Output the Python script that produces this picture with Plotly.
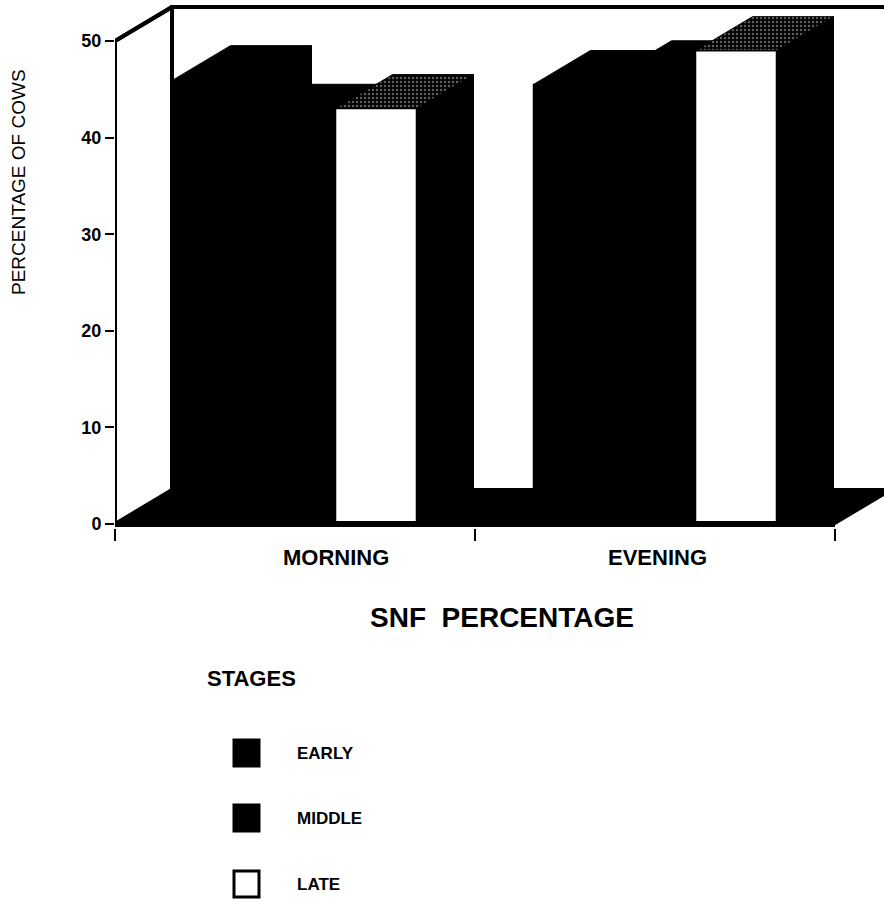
import plotly.graph_objects as go

# ---- data -------------------------------------------------------------
categories = ["MORNING", "EVENING"]
stages = ["EARLY", "MIDDLE", "LATE"]
early = [46, 45.5]
middle = [42, 46.5]
late = [43, 49]
y_ticks = [0, 10, 20, 30, 40, 50]

series = [early, middle, late]
front_colors = ["black", "black", "white"]

# ---- geometry of the pseudo-3D box (in axis units) ---------------------
W, H = 884, 921
PLOT_L, PLOT_B = 115, 528          # left edge / bottom edge of plot area (px)
PX_PER_X = 360.0                   # px per category unit
PX_PER_Y = 9.66                    # px per percentage point
Y0_PX = 524                        # pixel row of value 0 on the front plane

X_MIN = 0.5
X_MAX = X_MIN + (W - PLOT_L) / PX_PER_X
Y_MAX = Y0_PX / PX_PER_Y
Y_MIN = (Y0_PX - PLOT_B) / PX_PER_Y

DX = 57 / PX_PER_X                 # depth offset along x
DY = 34 / PX_PER_Y                 # depth offset along y
BAR_W = 0.225
TOP = 50


def px_x(px):
    return (px - PLOT_L) / (W - PLOT_L)


def px_y(py):
    return (PLOT_B - py) / PLOT_B


fig = go.Figure()


def poly(xs, ys, fill, lw=1, pattern=None):
    kw = {}
    if pattern is not None:
        kw["fillpattern"] = pattern
    fig.add_trace(go.Scatter(
        x=xs + [xs[0]], y=ys + [ys[0]], mode="lines", fill="toself",
        fillcolor=fill, line=dict(color="black", width=lw),
        hoverinfo="skip", showlegend=False, **kw))


# back wall
poly([X_MIN + DX, X_MAX + 0.2, X_MAX + 0.2, X_MIN + DX],
     [DY, DY, TOP + DY, TOP + DY], "white", lw=4)
# left wall
poly([X_MIN, X_MIN, X_MIN + DX, X_MIN + DX],
     [0, TOP, TOP + DY, DY], "white", lw=4)
# floor
poly([X_MIN, 2.5, 2.5 + DX, X_MAX + 0.2, X_MAX + 0.2, X_MIN + DX],
     [0, 0, DY, DY, DY, DY], "black", lw=2)

stipple = dict(shape=".", bgcolor="black", fgcolor="#bbbbbb",
               size=4, solidity=0.3)

# bars: each category a cluster of three boxes drawn left to right
for ci, _ in enumerate(categories):
    centre = ci + 1
    start = centre - 1.5 * BAR_W
    for si, vals in enumerate(series):
        v = vals[ci]
        x0 = start + si * BAR_W
        x1 = x0 + BAR_W
        # right side face
        poly([x1, x1 + DX, x1 + DX, x1], [0, DY, v + DY, v], "black")
        # top face
        poly([x0, x1, x1 + DX, x0 + DX], [v, v, v + DY, v + DY], "black",
             pattern=stipple if si == 2 else None)
        # front face
        poly([x0, x1, x1, x0], [0, 0, v, v], front_colors[si], lw=1.5)

# front floor edge and front vertical axis
fig.add_trace(go.Scatter(x=[X_MIN, 2.5], y=[0, 0], mode="lines",
                         line=dict(color="black", width=6),
                         hoverinfo="skip", showlegend=False))
fig.add_trace(go.Scatter(x=[X_MIN, X_MIN, X_MIN + DX], y=[0, TOP, TOP + DY],
                         mode="lines", line=dict(color="black", width=4),
                         hoverinfo="skip", showlegend=False))

FONT = "Liberation Sans"
annotations = []


def label(text, px, py, size, bold=True, anchor="center", angle=0):
    annotations.append(dict(
        x=px_x(px), y=px_y(py), xref="paper", yref="paper",
        xanchor=anchor, yanchor="middle", textangle=angle,
        text=f"<b>{text}</b>" if bold else text, showarrow=False,
        font=dict(family=FONT, size=size, color="black")))


# category labels under the floor
label_px = [336, 657]
for name, lx in zip(categories, label_px):
    label(name, lx, 557, 22)

# axis titles
label("SNF  PERCENTAGE", 502, 617, 28)
label("PERCENTAGE OF COWS", 18, 182, 19, bold=False, angle=-90)

# legend block
label("STAGES", 205, 678, 22, anchor="left")
shapes = []
legend_rows = [753, 818, 884]
for name, fc, ry in zip(stages, front_colors, legend_rows):
    shapes.append(dict(
        type="rect", xref="paper", yref="paper",
        x0=px_x(234), x1=px_x(259), y0=px_y(ry + 13), y1=px_y(ry - 13),
        fillcolor=fc, line=dict(color="black", width=3)))
    label(name, 295, ry, 17, anchor="left")

fig.update_layout(
    width=W, height=H, autosize=False,
    margin=dict(l=PLOT_L, r=0, t=0, b=H - PLOT_B, pad=0),
    paper_bgcolor="white", plot_bgcolor="white",
    showlegend=False,
    annotations=annotations, shapes=shapes,
    xaxis=dict(range=[X_MIN, X_MAX], showgrid=False, zeroline=False,
               showline=False, tickvals=[0.5, 1.5, 2.5],
               ticktext=["", "", ""], ticks="outside", ticklen=12,
               tickwidth=1.5, tickcolor="black", fixedrange=True),
    yaxis=dict(range=[Y_MIN, Y_MAX], showgrid=False, zeroline=False,
               showline=False, tickvals=y_ticks, ticks="outside",
               ticklen=9, tickwidth=1.5, tickcolor="black",
               tickfont=dict(family=FONT, size=18, color="black",
                             weight="bold"),
               fixedrange=True),
)

fig.write_html("out.html")
